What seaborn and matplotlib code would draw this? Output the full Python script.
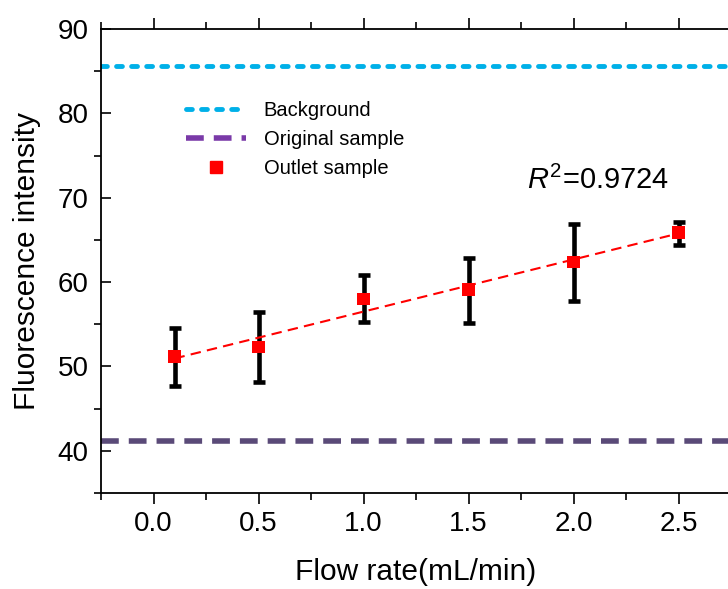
import matplotlib
matplotlib.use("Agg")
import matplotlib.pyplot as plt
from matplotlib.lines import Line2D
from matplotlib.ticker import MultipleLocator
import numpy as np
import pandas as pd
import seaborn as sns

# values
flow_rate = [0.1, 0.5, 1.0, 1.5, 2.0, 2.5]
intensity = [51.2, 52.3, 58.0, 59.1, 62.4, 65.9]
err_low = [47.7, 48.1, 55.3, 55.2, 57.7, 64.4]
err_high = [54.5, 56.5, 60.8, 62.9, 66.9, 67.1]
background_level = 85.6
original_level = 41.2
r2_text = "0.9724"

sns.set_theme(style="ticks")
plt.rcParams["font.family"] = ["Liberation Sans", "DejaVu Sans"]
plt.rcParams.update({
    "text.color": "black", "axes.labelcolor": "black",
    "xtick.color": "black", "ytick.color": "black",
    "mathtext.fontset": "custom", "mathtext.rm": "Liberation Sans",
    "mathtext.it": "Liberation Sans:italic",
})

df = pd.DataFrame({"flow": flow_rate, "intensity": intensity})
yerr = np.array([np.array(intensity) - np.array(err_low),
                 np.array(err_high) - np.array(intensity)])

# linear fit through the outlet samples
slope, intercept = np.polyfit(df["flow"], df["intensity"], 1)
fit_df = pd.DataFrame({"flow": df["flow"], "fit": intercept + slope * df["flow"]})

bg_style = dict(color="#00b0e8", lw=3.5, ls=(0, (1.2, 1.9)),
                dash_capstyle="round")
orig_style = dict(lw=4, ls=(0, (3.2, 1.8)))

fig = plt.figure(figsize=(7.28, 5.89), dpi=100)
ax = fig.add_axes([101 / 728, 96 / 589, 630 / 728, 464 / 589])

ax.axhline(background_level, **bg_style)
ax.axhline(original_level, color="#5a4a78", **orig_style)

ax.errorbar(df["flow"], df["intensity"], yerr=yerr, fmt="none", ecolor="black",
            elinewidth=3.3, capsize=4.5, capthick=3.3, zorder=3)
sns.lineplot(data=fit_df, x="flow", y="fit", ax=ax, color="red", lw=1.5,
             zorder=4)
ax.lines[-1].set_linestyle((0, (5, 3)))
sns.scatterplot(data=df, x="flow", y="intensity", ax=ax, marker="s", s=80,
                color="red", edgecolor="none", zorder=5)

ax.text(1.78, 72.0, r"$R^2$=" + r2_text, fontsize=21, va="center",
        ha="left")

ax.set_xlim(-0.25, 2.75)
ax.set_ylim(35, 90)
ax.set_xticks([0.0, 0.5, 1.0, 1.5, 2.0, 2.5])
ax.set_yticks([40, 50, 60, 70, 80, 90])
ax.xaxis.set_minor_locator(MultipleLocator(0.25))
ax.yaxis.set_minor_locator(MultipleLocator(5))
ax.tick_params(axis="x", which="both", direction="out", top=True, width=1.2,
               labelsize=20)
ax.tick_params(axis="x", which="major", length=8, pad=5)
ax.tick_params(axis="x", which="minor", length=5)
ax.tick_params(axis="y", which="both", width=1.2, labelsize=20)
ax.tick_params(axis="y", which="major", direction="in", length=7, pad=9)
ax.tick_params(axis="y", which="minor", direction="out", length=5)
for sp in ax.spines.values():
    sp.set_linewidth(1.3)
    sp.set_color("black")

ax.set_xlabel("Flow rate(mL/min)", fontsize=21.5, labelpad=15)
ax.set_ylabel("Fluorescence intensity", fontsize=21.5, labelpad=12)

handles = [
    Line2D([], [], **bg_style),
    Line2D([], [], color="#7a3aa8", **orig_style),
    Line2D([], [], color="red", marker="s", ls="none", markersize=9),
]
ax.legend(handles, ["Background", "Original sample", "Outlet sample"],
          loc="upper left", bbox_to_anchor=(0.119, 0.867), frameon=False,
          fontsize=14.5, handlelength=3.0, handletextpad=0.85,
          labelspacing=0.5, borderpad=0)

fig.savefig("out.png", dpi=100)
